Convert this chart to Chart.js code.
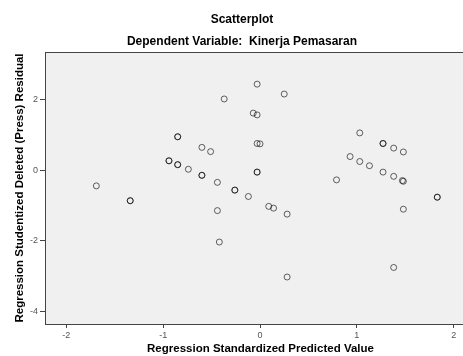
<!DOCTYPE html>
<html>
<head>
<meta charset="utf-8">
<title>Scatterplot</title>
<script src="https://cdn.jsdelivr.net/npm/chart.js@4.4.1/dist/chart.umd.min.js"></script>
<style>
  /* the original output is wider than the 463px window and gets cropped on the right */
  html, body { margin: 0; background: #fff; overflow: hidden; }
  canvas { display: block; }
</style>
</head>
<body>
<canvas id="myChart" width="484" height="356"></canvas>
<script>
// one entry per case: standardized predicted value (x) and studentized deleted residual (y)
// cases that sit on top of each other in the picture are listed twice
const predicted = [
  -0.03, 0.25, -0.37, -0.07, -0.03,
  -1.69, -1.34, -1.34, -0.85, -0.85,
  -0.60, -0.51, -0.94, -0.94, -0.85, -0.85,
  -0.74, -0.60, -0.60, -0.44, -0.26, -0.26,
  -0.12, -0.44, -0.03, 0.00, -0.03, -0.03,
  0.09, 0.14, 0.28,
  1.03, 1.27, 1.27, 1.38, 1.48,
  0.93, 1.03, 1.13, 1.27, 1.38,
  1.47, 1.48, 0.79, 1.83, 1.83, 1.48,
  -0.42, 0.28, 1.38
];
const residual = [
  2.44, 2.16, 2.02, 1.62, 1.57,
  -0.44, -0.86, -0.86, 0.95, 0.95,
  0.65, 0.53, 0.27, 0.27, 0.16, 0.16,
  0.03, -0.14, -0.14, -0.34, -0.56, -0.56,
  -0.74, -1.14, 0.76, 0.75, -0.05, -0.05,
  -1.02, -1.07, -1.24,
  1.06, 0.76, 0.76, 0.63, 0.52,
  0.39, 0.25, 0.13, -0.05, -0.17,
  -0.29, -0.31, -0.27, -0.76, -0.76, -1.10,
  -2.03, -3.02, -2.75
];
const xTicks = [-2, -1, 0, 1, 2];
const yTicks = [-4, -2, 0, 2];
const xRange = [-2.22, 2.23];
const yRange = [-4.35, 3.35];

const font = "'Liberation Sans', Arial, sans-serif";

// grey plot background and dark frame like the SPSS output
const plotFrame = {
  id: "plotFrame",
  beforeDraw(chart) {
    const { ctx, chartArea: a } = chart;
    ctx.save();
    ctx.fillStyle = "#f0f0f0";
    ctx.fillRect(a.left, a.top, a.right - a.left, a.bottom - a.top);
    ctx.restore();
  },
  afterDraw(chart) {
    const { ctx, chartArea: a } = chart;
    ctx.save();
    ctx.strokeStyle = "#444";
    ctx.lineWidth = 1;
    ctx.strokeRect(a.left + 0.5, a.top + 0.5, a.right - a.left, a.bottom - a.top);
    ctx.restore();
  },
};

const points = predicted.map((x, i) => ({ x: x, y: residual[i] }));

new Chart(document.getElementById("myChart"), {
  type: "scatter",
  data: {
    datasets: [
      {
        data: points,
        pointStyle: "circle",
        pointRadius: 3,
        pointBorderWidth: 1,
        pointBorderColor: "rgba(0,0,0,0.6)",
        pointBackgroundColor: "rgba(0,0,0,0)",
      },
    ],
  },
  options: {
    responsive: false,
    animation: false,
    layout: { autoPadding: false, padding: { left: 8, right: 8, top: 0, bottom: 0 } },
    plugins: {
      legend: { display: false },
      tooltip: { enabled: false },
      title: {
        display: true,
        text: "Scatterplot",
        color: "#000",
        font: { family: font, size: 12, weight: "bold" },
        padding: { top: 12.8, bottom: 0 },
      },
      subtitle: {
        display: true,
        text: "Dependent Variable:  Kinerja Pemasaran",
        color: "#000",
        font: { family: font, size: 12, weight: "bold" },
        padding: { top: 7.6, bottom: 2.8 },
      },
    },
    scales: {
      x: {
        type: "linear",
        min: xRange[0],
        max: xRange[1],
        afterBuildTicks: (s) => {
          s.ticks = xTicks.map((v) => ({ value: v }));
        },
        afterFit: (s) => {
          s.height = 32;
          s.paddingLeft = 0;
          s.paddingRight = 0;
        },
        border: { display: false },
        grid: { drawOnChartArea: false, drawTicks: true, tickLength: 4, color: "#444" },
        ticks: { color: "#555", padding: 2, maxRotation: 0, font: { family: font, size: 9 } },
        title: {
          display: true,
          text: "Regression Standardized Predicted Value",
          color: "#000",
          padding: 0,
          font: { family: font, size: 11.5, weight: "bold" },
        },
      },
      y: {
        type: "linear",
        min: yRange[0],
        max: yRange[1],
        afterBuildTicks: (s) => {
          s.ticks = yTicks.map((v) => ({ value: v }));
        },
        afterFit: (s) => {
          s.width = 37;
          s.paddingTop = 0;
          s.paddingBottom = 0;
        },
        border: { display: false },
        grid: { drawOnChartArea: false, drawTicks: true, tickLength: 5, color: "#444" },
        ticks: { color: "#555", padding: 2, font: { family: font, size: 9 } },
        title: {
          display: true,
          text: "Regression Studentized Deleted (Press) Residual",
          color: "#000",
          padding: { top: 5, bottom: 0 },
          font: { family: font, size: 11.5, weight: "bold" },
        },
      },
    },
  },
  plugins: [plotFrame],
});
</script>
</body>
</html>
